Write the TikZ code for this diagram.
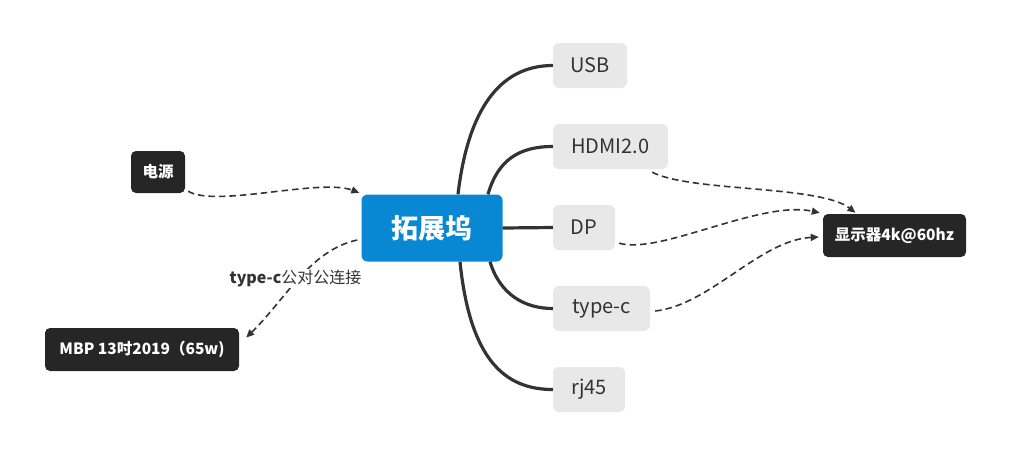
\documentclass[tikz,border=0pt]{standalone}
\usepackage{fontspec}
\setmainfont{Noto Sans CJK SC}
\usetikzlibrary{arrows.meta}
\definecolor{hubblue}{RGB}{8,136,210}
\definecolor{boxgray}{RGB}{232,232,232}
\definecolor{darkbox}{RGB}{38,38,38}
\definecolor{linec}{RGB}{51,51,51}
\tikzset{
  hub/.style={fill=hubblue, rounded corners=6pt, text=white, font=\fontsize{27}{30}\selectfont\bfseries, inner sep=0pt},
  port/.style={fill=boxgray, rounded corners=6pt, text=linec, font=\fontsize{20}{24}\selectfont, minimum height=45pt, inner sep=0pt},
  dev/.style={fill=darkbox, rounded corners=5pt, text=white, font=\fontsize{15.5}{18}\selectfont\bfseries, minimum height=43pt, inner sep=0pt},
  branch/.style={line width=3.2pt, draw=linec},
  link/.style={line width=1.6pt, draw=linec, dash pattern=on 6.5pt off 4pt, -{Triangle[length=8pt,width=7pt]}}
}
\begin{document}
\begin{tikzpicture}[x=1pt,y=-1pt]
\useasboundingbox (0,0) rectangle (1022,467);
% nodes
\node[hub, minimum width=141pt, minimum height=67pt] (c) at (432,228) {拓展坞};
\node[port, minimum width=74pt] (usb) at (590,65.5) {USB};
\node[port, minimum width=115pt] (hdmi) at (610.5,146.5) {HDMI2.0};
\node[port, minimum width=62pt] (dp) at (584,227.5) {DP};
\node[port, minimum width=97pt] (tc) at (601.5,308.5) {type-c};
\node[port, minimum width=72pt] (rj) at (589,389.5) {rj45};
\node[dev, minimum width=54pt, minimum height=42pt] (pw) at (158,172) {电源};
\node[dev, minimum width=194pt] (mbp) at (142,349.5) {MBP 13吋2019（65w)};
\node[dev, minimum width=143pt] (mon) at (894.5,235.5) {显示器4k@60hz};
% branches
\draw[branch] ([xshift=26pt]c.north) .. controls +(10,-85) and +(-53,0) .. (usb.west);
\draw[branch] ([xshift=56pt]c.north) .. controls +(10,-35) and +(-33,0) .. (hdmi.west);
\draw[branch] (c.east) -- (dp.west);
\draw[branch] ([xshift=58pt]c.south) .. controls +(10,33) and +(-28,0) .. (tc.west);
\draw[branch] ([xshift=28pt]c.south) .. controls +(10,98) and +(-48,0) .. (rj.west);
% dashed links
\coordinate (pwout) at ([xshift=3pt,yshift=2pt]pw.south east);
\coordinate (cin) at ([xshift=-2pt,yshift=1.5pt]c.north west);
\draw[link] (pwout) .. controls (215,208) and (320,178) .. (cin);
\coordinate (cout) at ([xshift=-4pt]c.west |- 0,240);
\coordinate (mbpin) at ([xshift=7pt,yshift=12pt]mbp.east);
\draw[link] (cout) .. controls (310,250) and (285,300) .. (mbpin)
  node[pos=0.5, xshift=-3pt, fill=white, inner sep=1pt, text=linec, font=\fontsize{16}{19}\selectfont] (lbl) {\textbf{type-c}公对公连接};
\coordinate (hdout) at ([xshift=-16pt,yshift=-3pt]hdmi.south east);
\coordinate (mon1) at ([xshift=-39pt,yshift=1pt]mon.north);
\draw[link] (hdout) .. controls (690,192) and (820,185) .. (mon1);
\coordinate (dpout) at ([xshift=4pt,yshift=7pt]dp.south east);
\coordinate (mon2) at ([xshift=-3pt,yshift=1pt]mon.north west);
\draw[link] (dpout) .. controls (660,255) and (760,200) .. (mon2);
\coordinate (tcout) at ([xshift=5pt,yshift=-2.5pt]tc.east);
\coordinate (mon3) at ([xshift=-4pt,yshift=-1.5pt]mon.west);
\draw[link] (tcout) .. controls (710,305) and (760,240) .. (mon3);
\end{tikzpicture}
\end{document}
